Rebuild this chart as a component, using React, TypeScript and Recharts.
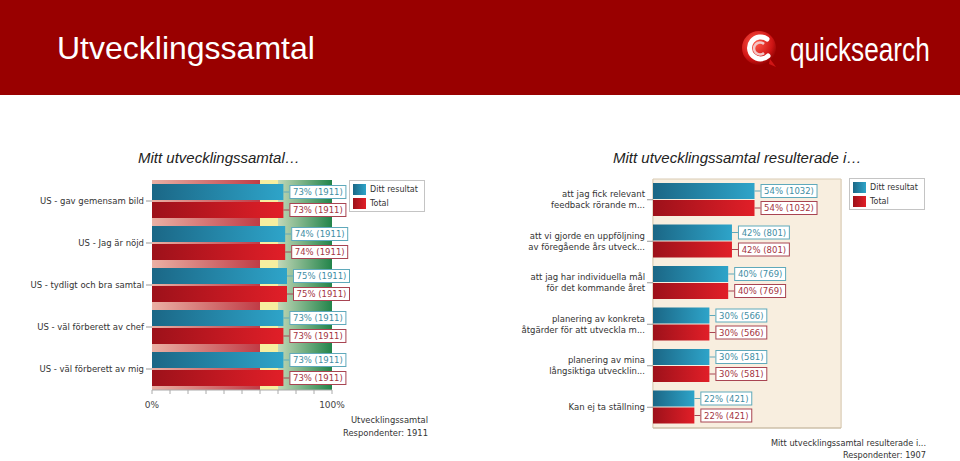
import React from "react"
import {
  Bar,
  BarChart,
  CartesianGrid,
  LabelList,
  Legend,
  ReferenceArea,
  XAxis,
  YAxis,
} from "recharts"

// left chart: Mitt utvecklingssamtal…
const leftCategories = [
  "US - gav gemensam bild",
  "US - Jag är nöjd",
  "US - tydligt och bra samtal",
  "US - väl förberett av chef",
  "US - väl förberett av mig",
]
const leftOwn = [73, 74, 75, 73, 73]
const leftTotal = [73, 74, 75, 73, 73]
const leftOwnN = [1911, 1911, 1911, 1911, 1911]
const leftTotalN = [1911, 1911, 1911, 1911, 1911]

// right chart: Mitt utvecklingssamtal resulterade i…
const rightCategories = [
  ["att jag fick relevant", "feedback rörande m..."],
  ["att vi gjorde en uppföljning", "av föregående års utveck..."],
  ["att jag har individuella mål", "för det kommande året"],
  ["planering av konkreta", "åtgärder för att utveckla m..."],
  ["planering av mina", "långsiktiga utvecklin..."],
  ["Kan ej ta ställning"],
]
const rightOwn = [54, 42, 40, 30, 30, 22]
const rightTotal = [54, 42, 40, 30, 30, 22]
const rightOwnN = [1032, 801, 769, 566, 581, 421]
const rightTotalN = [1032, 801, 769, 566, 581, 421]

const percentTicks = [0, 10, 20, 30, 40, 50, 60, 70, 80, 90, 100]

const SMALL = "'DejaVu Sans', Verdana, sans-serif"
const ARIAL = "'Liberation Sans', Arial, sans-serif"

const BLUE_TEXT = "#3f8ea4"
const BLUE_BORDER = "#5fa9bb"
const RED_TEXT = "#a4343f"
const RED_BORDER = "#a84452"

const leftData = leftCategories.map((name, i) => ({
  name,
  own: leftOwn[i],
  total: leftTotal[i],
  ownLabel: `${leftOwn[i]}% (${leftOwnN[i]})`,
  totalLabel: `${leftTotal[i]}% (${leftTotalN[i]})`,
}))

const rightData = rightCategories.map((lines, i) => ({
  name: lines.join("\n"),
  own: rightOwn[i],
  total: rightTotal[i],
  ownLabel: `${rightOwn[i]}% (${rightOwnN[i]})`,
  totalLabel: `${rightTotal[i]}% (${rightTotalN[i]})`,
}))

const valueLabel = (textColor: string, border: string) => (props: any) => {
  const { x, y, width, height, value } = props
  const end = Number(x) + Number(width)
  const cy = Number(y) + Number(height) / 2
  const w = String(value).length * 5.1 + 5
  return (
    <g>
      <line x1={end} x2={end + 6} y1={cy} y2={cy} stroke={border} />
      <rect x={end + 6.5} y={cy - 6.5} width={w} height={13} fill="#fff" stroke={border} />
      <text
        x={end + 6.5 + w / 2}
        y={cy + 3}
        textAnchor="middle"
        fontSize={8.5}
        fontFamily={SMALL}
        fill={textColor}
      >
        {value}
      </text>
    </g>
  )
}

const CategoryTick = (props: any) => {
  const { x, y, payload } = props
  const lines = String(payload.value).split("\n")
  const start = -((lines.length - 1) * 11) / 2
  return (
    <text x={x} y={y} textAnchor="end" fontSize={8.5} fontFamily={SMALL} fill="#333">
      {lines.map((line, i) => (
        <tspan key={i} x={x} dy={i === 0 ? start + 3 : 11}>
          {line}
        </tspan>
      ))}
    </text>
  )
}

const LegendBox = () => (
  <div
    style={{
      width: 76,
      height: 32,
      border: "1px solid #c4c4c4",
      background: "#fff",
      fontFamily: SMALL,
      fontSize: 8,
      color: "#333",
      boxSizing: "border-box",
      padding: "2px 3px",
      whiteSpace: "nowrap",
    }}
  >
    {[
      { label: "Ditt resultat", fill: "linear-gradient(90deg,#1b6786,#2ea4c9)" },
      { label: "Total", fill: "linear-gradient(90deg,#9d111a,#e11f28)" },
    ].map((item) => (
      <div key={item.label} style={{ display: "flex", alignItems: "center", height: 13.5 }}>
        <span style={{ width: 13, height: 11, background: item.fill, marginRight: 4, flexShrink: 0 }} />
        {item.label}
      </div>
    ))}
  </div>
)

const Defs = () => (
  <defs>
    <linearGradient id="blueBar" x1="0" y1="0" x2="1" y2="0">
      <stop offset="0%" stopColor="#1b6786" />
      <stop offset="100%" stopColor="#2ea4c9" />
    </linearGradient>
    <linearGradient id="redBar" x1="0" y1="0" x2="1" y2="0">
      <stop offset="0%" stopColor="#9d111a" />
      <stop offset="100%" stopColor="#e11f28" />
    </linearGradient>
    <linearGradient id="redZone" x1="0" y1="0" x2="1" y2="0">
      <stop offset="0%" stopColor="#eab0a4" />
      <stop offset="100%" stopColor="#c03c46" />
    </linearGradient>
    <linearGradient id="greenZone" x1="0" y1="0" x2="1" y2="0">
      <stop offset="0%" stopColor="#c3d8b8" />
      <stop offset="100%" stopColor="#22844a" />
    </linearGradient>
  </defs>
)

const Logo = () => (
  <div style={{ position: "absolute", left: 740, top: 28, height: 42, display: "flex", alignItems: "center" }}>
    <svg width={40} height={42}>
      <defs>
        <radialGradient id="logoBall" cx="40%" cy="35%" r="70%">
          <stop offset="0%" stopColor="#ff5a4a" />
          <stop offset="70%" stopColor="#d01515" />
          <stop offset="100%" stopColor="#8a0000" />
        </radialGradient>
      </defs>
      <circle cx={19} cy={20} r={17} fill="url(#logoBall)" />
      <path d="M 27 11 A 11 11 0 1 0 28 28" fill="none" stroke="#fff" strokeWidth={5} strokeLinecap="round" />
      <path d="M 24 16 A 6 6 0 1 0 24 25" fill="none" stroke="#f3c6c6" strokeWidth={2.5} />
      <path d="M 30 31 L 36 39 L 29 36 Z" fill="#d01515" />
    </svg>
    <span
      style={{
        fontFamily: ARIAL,
        fontSize: 34,
        color: "#fff",
        marginLeft: 10,
        display: "inline-block",
        transform: "scaleX(0.77)",
        transformOrigin: "left center",
      }}
    >
      quicksearch
    </span>
  </div>
)

export default function App() {
  return (
    <div
      style={{
        position: "absolute",
        left: 0,
        top: 0,
        width: 960,
        height: 461,
        background: "#fff",
        overflow: "hidden",
        fontFamily: ARIAL,
      }}
    >
      <div style={{ position: "absolute", left: 0, top: 0, width: 960, height: 95, background: "#990000" }} />
      <div style={{ position: "absolute", left: 57, top: 28, fontSize: 32, color: "#fff", lineHeight: "40px" }}>
        Utvecklingssamtal
      </div>
      <Logo />

      <div style={{ position: "absolute", left: 138, top: 149, fontSize: 15, fontStyle: "italic", color: "#222", lineHeight: "18px" }}>
        Mitt utvecklingssamtal…
      </div>
      <div style={{ position: "absolute", left: 613, top: 149, fontSize: 15, fontStyle: "italic", color: "#222", lineHeight: "18px" }}>
        Mitt utvecklingssamtal resulterade i…
      </div>

      <div style={{ position: "absolute", left: 0, top: 172 }}>
        <BarChart
          width={440}
          height={250}
          data={leftData}
          layout="vertical"
          margin={{ top: 8, right: 108, left: 0, bottom: 2 }}
          barSize={16}
          barGap={2}
        >
          <Defs />
          <ReferenceArea x1={0} x2={60} fill="url(#redZone)" fillOpacity={1} stroke="none" />
          <ReferenceArea x1={60} x2={70} fill="#f6eea0" fillOpacity={1} stroke="none" />
          <ReferenceArea x1={70} x2={100} fill="url(#greenZone)" fillOpacity={1} stroke="none" />
          <CartesianGrid horizontal={false} stroke="rgba(255,255,255,0.5)" />
          <XAxis
            type="number"
            domain={[0, 100]}
            ticks={percentTicks}
            height={30}
            tickSize={4}
            tickMargin={8}
            stroke="#aaa"
            tick={{ fontSize: 9, fontFamily: SMALL, fill: "#444" }}
            tickFormatter={(v: number) => (v === 0 || v === 100 ? `${v}%` : "")}
          />
          <YAxis
            type="category"
            dataKey="name"
            width={152}
            axisLine={false}
            tickSize={6}
            tickLine={{ stroke: "#999" }}
            tick={<CategoryTick />}
          />
          <Legend
            layout="vertical"
            align="center"
            verticalAlign="middle"
            wrapperStyle={{ left: 349, top: 8, width: 76 }}
            content={() => <LegendBox />}
          />
          <Bar dataKey="own" name="Ditt resultat" fill="url(#blueBar)" isAnimationActive={false}>
            <LabelList dataKey="ownLabel" content={valueLabel(BLUE_TEXT, BLUE_BORDER)} />
          </Bar>
          <Bar dataKey="total" name="Total" fill="url(#redBar)" isAnimationActive={false}>
            <LabelList dataKey="totalLabel" content={valueLabel(RED_TEXT, RED_BORDER)} />
          </Bar>
        </BarChart>
      </div>
      <div style={{ position: "absolute", left: 290, top: 414, width: 138, textAlign: "right", fontFamily: SMALL, fontSize: 8.4, color: "#333", lineHeight: "13px" }}>
        Utvecklingssamtal
        <br />
        Respondenter: 1911
      </div>

      <div style={{ position: "absolute", left: 480, top: 171 }}>
        <BarChart
          width={460}
          height={260}
          data={rightData}
          layout="vertical"
          margin={{ top: 8, right: 99, left: 0, bottom: 2 }}
          barSize={16}
          barGap={1}
        >
          <Defs />
          <ReferenceArea x1={0} x2={100} fill="#f8eedf" fillOpacity={1} stroke="#d8cbb5" />
          <CartesianGrid horizontal={false} stroke="#e6d8c0" />
          <XAxis
            type="number"
            domain={[0, 100]}
            ticks={percentTicks}
            height={1}
            tick={false}
            tickLine={false}
            stroke="#c9bba3"
          />
          <YAxis
            type="category"
            dataKey="name"
            width={173}
            axisLine={false}
            tickSize={6}
            tickLine={{ stroke: "#999" }}
            tick={<CategoryTick />}
          />
          <Legend
            layout="vertical"
            align="center"
            verticalAlign="middle"
            wrapperStyle={{ left: 369, top: 7, width: 76 }}
            content={() => <LegendBox />}
          />
          <Bar dataKey="own" name="Ditt resultat" fill="url(#blueBar)" isAnimationActive={false}>
            <LabelList dataKey="ownLabel" content={valueLabel(BLUE_TEXT, BLUE_BORDER)} />
          </Bar>
          <Bar dataKey="total" name="Total" fill="url(#redBar)" isAnimationActive={false}>
            <LabelList dataKey="totalLabel" content={valueLabel(RED_TEXT, RED_BORDER)} />
          </Bar>
        </BarChart>
      </div>
      <div style={{ position: "absolute", left: 690, top: 437, width: 236, textAlign: "right", fontFamily: SMALL, fontSize: 8.2, color: "#333", lineHeight: "12px" }}>
        Mitt utvecklingssamtal resulterade i...
        <br />
        Respondenter: 1907
      </div>
    </div>
  )
}
